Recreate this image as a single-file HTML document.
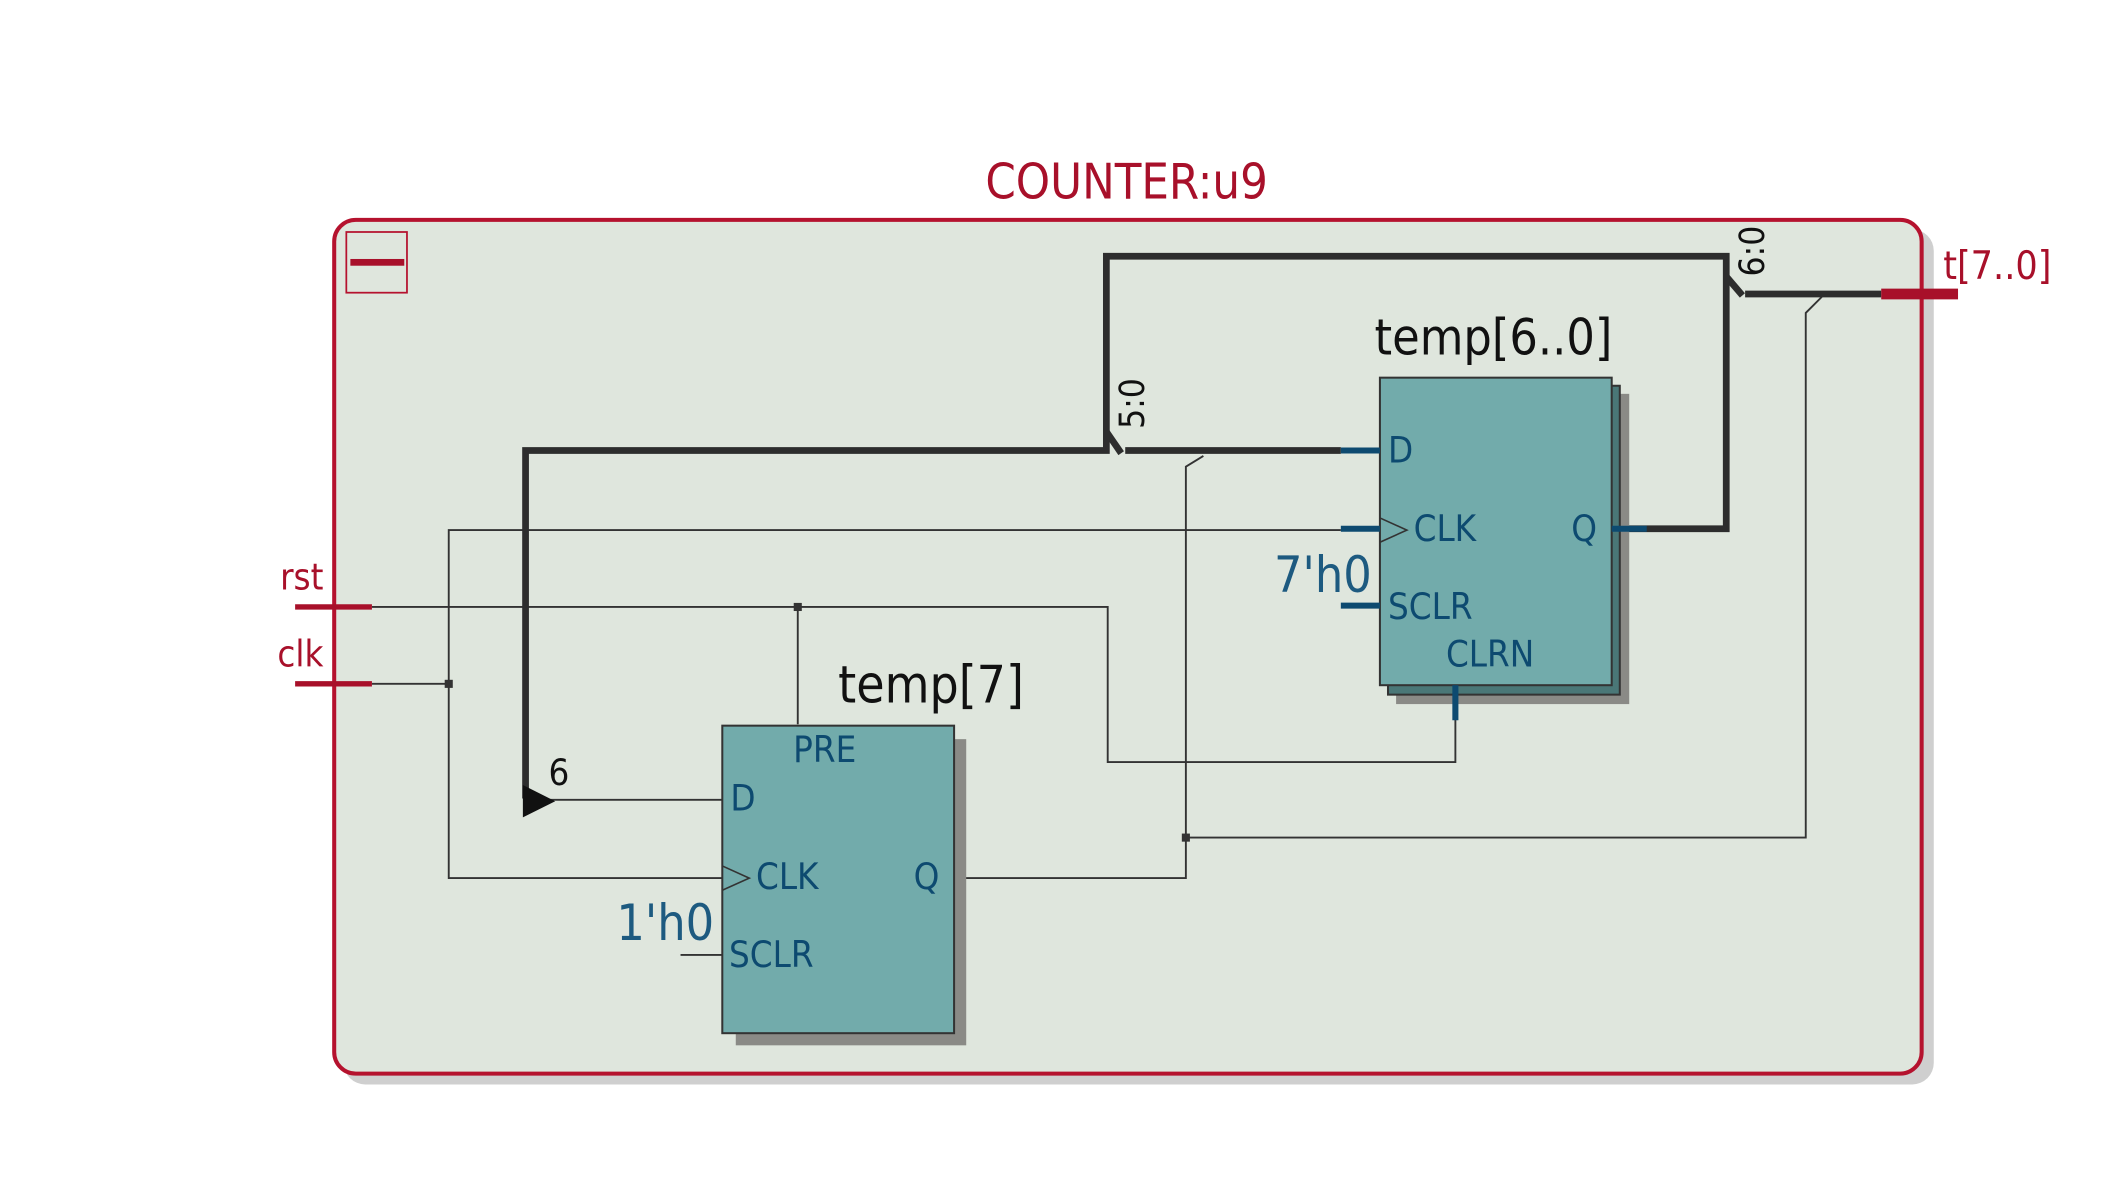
<!DOCTYPE html>
<html><head><meta charset="utf-8"><style>html,body{margin:0;padding:0;background:#fff}svg{display:block}text{font-stretch:condensed}</style></head>
<body>
<svg width="2113" height="1191" viewBox="0 0 1568 883" preserveAspectRatio="none" xmlns="http://www.w3.org/2000/svg" font-family="'DejaVu Sans Condensed','DejaVu Sans','Liberation Sans',sans-serif">
<rect x="255" y="170" width="1180" height="634" rx="16" fill="#cfcfcf"/>
<rect x="248" y="163" width="1178" height="633" rx="16" fill="#dfe6dd" stroke="#b5122e" stroke-width="3"/>
<text x="836" y="147" font-size="36" fill="#a8102a" text-anchor="middle">COUNTER:u9</text>
<rect x="257" y="172" width="45" height="45" fill="none" stroke="#b5122e" stroke-width="1.3"/>
<rect x="260" y="192" width="40" height="5" fill="#a8102a"/>
<!-- ports -->
<text x="240" y="437" font-size="27" fill="#a8102a" text-anchor="end">rst</text>
<text x="240" y="494" font-size="27" fill="#a8102a" text-anchor="end">clk</text>
<line x1="219" y1="450" x2="276" y2="450" stroke="#a8102a" stroke-width="4"/>
<line x1="219" y1="507" x2="276" y2="507" stroke="#a8102a" stroke-width="4"/>
<text x="1442" y="207" font-size="29" fill="#a8102a">t[7..0]</text>
<!-- thin wires -->
<g fill="none" stroke="#333" stroke-width="1.4">
<polyline points="276,507 333,507"/>
<polyline points="995,393 333,393 333,651 536,651"/>
<polyline points="276,450 822,450 822,565 1080,565 1080,533"/>
<polyline points="592,450 592,537"/>
<polyline points="400,593 536,593"/>
<polyline points="708,651 880,651 880,346 893,338"/>
<polyline points="880,621 1340,621 1340,232 1352,220"/>
<polyline points="505,708 536,708"/>
</g>
<rect x="330" y="504" width="6" height="6" fill="#333"/>
<rect x="589" y="447" width="6" height="6" fill="#333"/>
<rect x="877" y="618" width="6" height="6" fill="#333"/>
<!-- buses -->
<g fill="none" stroke="#2d2d2d" stroke-width="5">
<polyline points="390,592 390,334 821,334 821,190 1281,190 1281,392 1200,392"/>
<polyline points="835,334 995,334"/>
<polyline points="1295,218 1396,218"/>
<polyline points="821,320 832,336"/>
<polyline points="1281,205 1293,219"/>
</g>
<polygon points="388,582 412,594 388,606" fill="#111"/>
<text x="407" y="582" font-size="27" fill="#111">6</text>
<text transform="translate(849,318) rotate(-90)" font-size="26" fill="#111">5:0</text>
<text transform="translate(1309,205) rotate(-90)" font-size="26" fill="#111">6:0</text>
<line x1="1396" y1="218" x2="1453" y2="218" stroke="#a8102a" stroke-width="8"/>
<!-- temp7 -->
<rect x="546" y="548" width="171" height="227" fill="#8a8a86"/>
<rect x="536" y="538" width="172" height="228" fill="#72abab" stroke="#333" stroke-width="1.5"/>
<polyline points="536,642 556,651 536,660" fill="none" stroke="#333" stroke-width="1.2"/>
<g font-size="27" fill="#0d4a70">
<text x="612" y="565" text-anchor="middle">PRE</text>
<text x="542" y="601">D</text>
<text x="561" y="659">CLK</text>
<text x="678" y="659">Q</text>
<text x="541" y="717">SCLR</text>
</g>
<text x="622" y="521" font-size="38" fill="#111">temp[7]</text>
<text x="530" y="697" font-size="37" fill="#1d5a80" text-anchor="end">1'h0</text>
<!-- temp6..0 -->
<rect x="1036" y="292" width="173" height="230" fill="#8a8a86"/>
<rect x="1030" y="286" width="172" height="229" fill="#4a7777" stroke="#333" stroke-width="1.5"/>
<rect x="1024" y="280" width="172" height="228" fill="#72abab" stroke="#333" stroke-width="1.5"/>
<polyline points="1024,384 1044,393 1024,402" fill="none" stroke="#333" stroke-width="1.2"/>
<g stroke="#0d4a70" stroke-width="4.5">
<line x1="995" y1="334" x2="1024" y2="334"/>
<line x1="995" y1="392" x2="1024" y2="392"/>
<line x1="995" y1="449" x2="1024" y2="449"/>
<line x1="1196" y1="392" x2="1222" y2="392"/>
<line x1="1080" y1="508" x2="1080" y2="534"/>
</g>
<g font-size="27" fill="#0d4a70">
<text x="1030" y="343">D</text>
<text x="1049" y="401">CLK</text>
<text x="1166" y="401">Q</text>
<text x="1030" y="459">SCLR</text>
<text x="1073" y="494">CLRN</text>
</g>
<text x="1020" y="263" font-size="37" fill="#111">temp[6..0]</text>
<text x="1018" y="439" font-size="37" fill="#1d5a80" text-anchor="end">7'h0</text>
</svg>
</body></html>
